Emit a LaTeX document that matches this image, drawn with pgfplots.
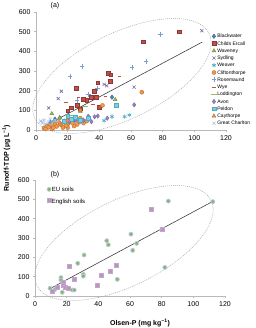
\documentclass[border=0pt]{standalone}
\usepackage{pgfplots}
\pgfplotsset{compat=1.18}
\usepackage{fontspec}
\setmainfont{Liberation Sans}
\definecolor{cBlue}{HTML}{4F81BD}
\definecolor{cBlueD}{HTML}{385D8A}
\definecolor{cRed}{HTML}{C0504D}
\definecolor{cRedD}{HTML}{8C3836}
\definecolor{cGreen}{HTML}{9BBB59}
\definecolor{cGreenD}{HTML}{71893F}
\definecolor{cPurple}{HTML}{8064A2}
\definecolor{cCyan}{HTML}{4BACC6}
\definecolor{cOrange}{HTML}{F79646}
\definecolor{cOrangeD}{HTML}{B66D31}
\definecolor{cPlus}{HTML}{7F9BD2}
\definecolor{cAvon}{HTML}{9A7FC4}
\definecolor{cPeldon}{HTML}{7FCDE3}
\definecolor{cPeldonD}{HTML}{4BACC6}
\definecolor{cGC}{HTML}{A9BCDD}
\definecolor{cEU}{HTML}{8DB352}
\definecolor{cEUo}{HTML}{B7CCE6}
\definecolor{cEng}{HTML}{C98FB5}
\definecolor{cEngo}{HTML}{B9AAD3}
\tikzset{ell/.style={draw=gray!70, line width=0.5pt, dash pattern=on 1pt off 1pt}}
\pgfplotsset{
  common/.style={
    scale only axis, width=190pt, clip=false,
    xmin=0, xmax=120, ymin=0, ymax=600,
    axis x line=bottom, axis y line=left,
    axis line style={-, draw=gray!55, line width=0.6pt},
    xtick={0,20,...,120}, ytick={0,100,...,600},
    tick align=outside, major tick length=2pt,
    tick style={draw=gray!55, line width=0.5pt},
    ticklabel style={font=\fontsize{7}{8}\selectfont},
    /pgf/number format/assume math mode=true,
    every axis plot post/.append style={
      legend image code/.code={\draw[mark repeat=2,mark phase=2,##1] plot coordinates {(0pt,0pt)(3pt,0pt)(6pt,0pt)};}},
  },
}
\begin{document}
\begin{tikzpicture}
\useasboundingbox (0,0) rectangle (255pt,328pt);
% ---------------- panel (a)
\begin{axis}[common, at={(36pt,198pt)}, anchor=south west, height=118pt,
  legend cell align=left,
  legend style={draw=none, fill=none, inner sep=0pt, row sep=0pt, column sep=0pt,
    font=\fontsize{5}{6}\selectfont,
    nodes={inner sep=0.6pt, text height=4.6pt, text depth=1.45pt},
    at={(axis cs:110.5,496)}, anchor=north west},
]
% Blackwater
\addplot[only marks, mark=diamond*, mark size=2.2pt, color=cBlueD, fill=cBlue]
 coordinates {(48,167) (12,55) (15,62) (18,45) (9,38) (21,60) (24,48)};
\addlegendentry{Blackwater}
% Childs Ercall
\addplot[only marks, mark=square*, mark size=1.9pt, color=cRedD, fill=cRed]
 coordinates {(90.5,500) (67.8,449) (45.5,288) (47.2,281) (47,250) (39,240) (37,198)
 (25.6,213) (35,168) (30,158) (32,150) (38,165) (22,113) (40,117) (28,108) (26,125) (20,98)};
\addlegendentry{Childs Ercall}
% Waveney
\addplot[only marks, mark=triangle*, mark size=2.2pt, color=cGreenD, fill=cGreen]
 coordinates {(50,155) (10,83) (28,95) (15,62)};
\addlegendentry{Waveney}
% Sydling
\addplot[only marks, mark=x, mark size=2.2pt, color=cPurple, line width=0.6pt]
 coordinates {(104.7,505) (16,197) (44.7,225) (62,218) (8,112) (14,160) (43,232)};
\addlegendentry{Sydling}
% Weaver
\addplot[only marks, mark=asterisk, mark size=2.2pt, color=cCyan, line width=0.6pt]
 coordinates {(59,76) (56,68) (43,48) (48,68) (11,45)};
\addlegendentry{Weaver}
% Cliftonthorpe
\addplot[only marks, mark=*, mark size=2pt, color=cOrangeD, fill=cOrange]
 coordinates {(66.8,192) (42,125) (5,10) (7,20) (8,14) (10,25) (12,30) (13,18) (15,35)
 (16,25) (18,40) (20,30) (22,45) (24,20) (25,55) (27,40) (30,35) (10,6) (20,12) (28,60)
 (17,12) (23,35) (6,5) (14,45) (32,45) (19,22) (26,28) (11,12)};
\addlegendentry{Cliftonthorpe}
% Rosemaund
\addplot[only marks, mark=+, mark size=2.3pt, color=cPlus, line width=0.6pt]
 coordinates {(78.7,485) (69.5,347) (60.6,318) (29,323) (21.4,272) (38.7,212) (26,150) (33,182)};
\addlegendentry{Rosemaund}
% Wye
\addplot[only marks, mark=-, mark size=1.6pt, color=cRed, line width=0.8pt]
 coordinates {(52.6,272) (44,173) (27,165) (19,140) (36,132)};
\addlegendentry{Wye}
% Loddington
\addplot[only marks, mark=-, mark size=2.8pt, color=cGreen, line width=0.8pt]
 coordinates {(22,72) (31,118)};
\addlegendentry{Loddington}
% Avon
\addplot[only marks, mark=diamond*, mark size=2.2pt, color=cPurple, fill=cAvon]
 coordinates {(62,128) (39,71) (37,67) (30,50) (25,50) (33,70) (45,60) (28,45) (35,42) (21,40)};
\addlegendentry{Avon}
% Peldon
\addplot[only marks, mark=square*, mark size=1.9pt, color=cPeldonD, fill=cPeldon]
 coordinates {(50.5,128) (22,55) (25,65) (28,50) (33,60) (18,45) (20,70)};
\addlegendentry{Peldon}
% Caythorpe
\addplot[only marks, mark=triangle*, mark size=2.2pt, color=cOrangeD, fill=cOrange]
 coordinates {(15,30) (20,50) (28,100)};
\addlegendentry{Caythorpe}
% Great Charlton
\addplot[only marks, mark=x, mark size=2.2pt, color=cGC, line width=0.6pt]
 coordinates {(3,45) (5,50) (8,40) (10,35) (6,30) (12,50) (9,55) (4,35) (14,45)};
\addlegendentry{Great Charlton}
\addplot[forget plot, no marks, black!75, line width=0.6pt] coordinates {(5,18) (105,447)};
\draw[ell, rotate around={26:(axis cs:54.3,274.6)}] (axis cs:54.3,274.6) ellipse (97pt and 43pt);
\end{axis}
% ---------------- panel (b)
\begin{axis}[common, at={(35pt,32pt)}, anchor=south west, height=116pt,
  legend cell align=left,
  legend style={draw=none, fill=none, inner sep=0pt, row sep=0pt, column sep=0pt,
    font=\fontsize{6}{7}\selectfont,
    nodes={inner sep=0.8pt, text height=7.5pt, text depth=2.2pt},
    at={(axis cs:7.5,582)}, anchor=north west},
]
\addplot[only marks, mark=*, mark size=2pt, color=cEUo, fill=cEU, line width=0.8pt]
 coordinates {(9.5,40) (12.6,34) (16.4,95) (16.4,83) (17.2,19) (23.6,31) (24.8,31) (27,169)
 (31,212) (30.5,112) (30.5,103) (45.3,286) (46.3,265) (52,86) (60.6,320) (61.7,236)
 (64.2,272) (82,148) (84.2,491) (112.3,488)};
\addlegendentry{EU soils}
\addplot[only marks, mark=square*, mark size=2pt, color=cEngo, fill=cEng, line width=0.8pt]
 coordinates {(11.2,22) (17.9,69) (18,57) (19,46) (22,155) (21,40) (24.8,86) (39.4,53)
 (42.1,105) (47.4,129) (51.6,160) (73.7,448) (80.6,345) (14,45)};
\addlegendentry{English soils}
\addplot[forget plot, no marks, black!75, line width=0.6pt] coordinates {(9.5,38) (112,488)};
\draw[ell, rotate around={26:(axis cs:56.2,274)}] (axis cs:56.2,274) ellipse (97pt and 43pt);
\end{axis}
% labels
\node[font=\fontsize{7}{8}\selectfont] at (55pt,322pt) {(a)};
\node[font=\fontsize{7}{8}\selectfont] at (55pt,153pt) {(b)};
\node[rotate=90, font=\bfseries\fontsize{7}{8}\selectfont] at (6.5pt,170pt) {Runoff-TDP (µg L\textsuperscript{−1})};
\node[font=\bfseries\fontsize{7}{8}\selectfont] at (140pt,5pt) {Olsen-P (mg kg\textsuperscript{−1})};
\end{tikzpicture}
\end{document}
